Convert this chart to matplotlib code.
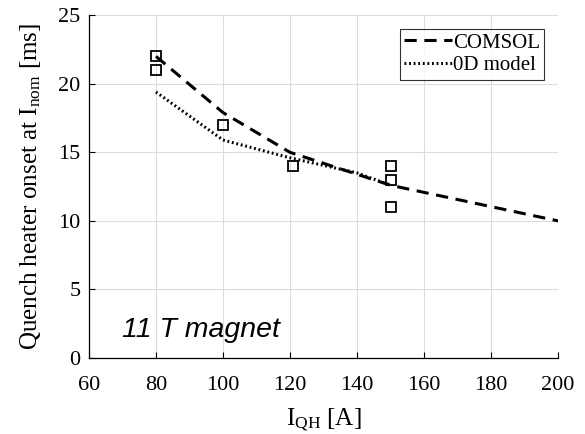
import numpy as np
import matplotlib
matplotlib.use("Agg")
import matplotlib.pyplot as plt

# COMSOL simulation curve
comsol_i = [80, 100, 120, 150, 200]
comsol_t = [22.0, 17.9, 15.0, 12.6, 10.0]

# 0D model curve
model_i = [80, 100, 120, 140, 150]
model_t = [19.4, 15.9, 14.6, 13.5, 12.6]

# measured onsets
meas_i = [80, 80, 100, 121, 150, 150, 150]
meas_t = [22, 21, 17, 14, 14, 13, 11]

plt.rcParams['font.family'] = ['Liberation Serif', 'DejaVu Serif']
plt.rcParams['mathtext.default'] = 'regular'

fig = plt.figure(figsize=(5.85, 4.34), dpi=100)
ax = fig.add_axes([0.152, 0.175, 0.802, 0.79])

ax.plot(comsol_i, comsol_t, color='black', lw=2.2, ls=(0, (4, 2.5)), label='COMSOL')
ax.plot(model_i, model_t, color='black', lw=2.2, ls=(0, (0.6, 0.9)), label='0D model')
ax.plot(meas_i, meas_t, ls='none', marker='s', ms=7.5, mfc='none', mec='black', mew=1.3)

ax.set_xlim(60, 200)
ax.set_ylim(0, 25)
ax.set_xticks(np.arange(60, 201, 20))
ax.set_yticks(np.arange(0, 26, 5))
ax.grid(True, color='#dcdcdc', lw=0.8)
ax.set_axisbelow(True)
for s in ['top', 'right']:
    ax.spines[s].set_visible(False)
for s in ['left', 'bottom']:
    ax.spines[s].set_linewidth(0.9)
ax.tick_params(direction='in', length=4, labelsize=16, width=0.8)
ax.tick_params(axis='x', pad=13)
ax.tick_params(axis='y', pad=6)

ax.set_xlabel('$I_{QH}$ [A]', fontsize=18, labelpad=8)
ax.set_ylabel('Quench heater onset at $I_{nom}$ [ms]', fontsize=18, labelpad=11)

ax.text(70, 1.5, '11 T magnet', family='Liberation Sans', style='italic', fontsize=20.5)

leg = ax.legend(loc='upper right', bbox_to_anchor=(0.97, 0.96), fontsize=15,
                frameon=True, fancybox=False, edgecolor='black', handlelength=2.3,
                handletextpad=0.05, borderpad=0.2, labelspacing=0.15, borderaxespad=0)
leg.get_frame().set_linewidth(0.8)

fig.savefig('out.png', dpi=100)
